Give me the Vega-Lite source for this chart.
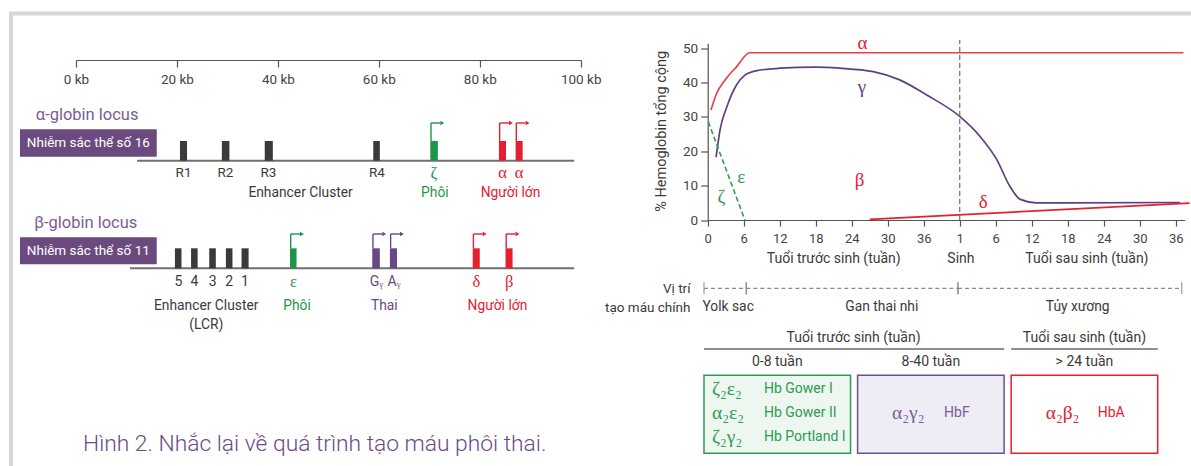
{
  "$schema": "https://vega.github.io/schema/vega-lite/v6.json",
  "width": 1200,
  "height": 472.5,
  "autosize": {"type": "none"},
  "padding": {"left": 11, "top": 13.5, "right": -20, "bottom": -20},
  "background": "#ffffff",
  "config": {
    "view": {"stroke": "#d7d7d7", "strokeWidth": 4},
    "font": "Roboto",
    "axis": {"labelFont": "Roboto", "titleFont": "Roboto", "labelColor": "#444444", "titleColor": "#3a3a3a", "domainColor": "#555555", "tickColor": "#555555", "grid": false, "titleFontWeight": "normal"}
  },
  "title": {"text": "Hình 2. Nhắc lại về quá trình tạo máu phôi thai.", "orient": "bottom", "anchor": "start", "frame": "group", "offset": -35.5, "dx": 72, "baseline": "alphabetic", "fontSize": 22.8, "fontWeight": 300, "color": "#6b4a8a", "font": "Roboto"},
  "resolve": {"scale": {"x": "independent", "y": "independent", "color": "independent", "fill": "independent", "stroke": "independent"}},
  "layer": [
    {
      "data": {"values": [{"nst": "16", "bd": 12.1, "kt": 98.7}]},
      "mark": {"type": "rule", "color": "#707070", "strokeWidth": 2},
      "encoding": {
        "x": {"field": "bd", "type": "quantitative", "scale": {"domain": [0, 100], "range": [65, 569.7], "nice": false, "zero": false},
          "axis": {"orient": "bottom", "offset": -426, "values": [0, 20, 40, 60, 80, 100], "labelExpr": "datum.value + ' kb'", "tickSize": 7, "labelPadding": 5, "labelFontSize": 13.5, "domainWidth": 1.2, "tickWidth": 1.2, "labelFlush": false, "labelOverlap": false, "title": null}},
        "x2": {"field": "kt"},
        "y": {"datum": 0, "type": "quantitative", "scale": {"domain": [0, 1], "range": [147.2, 127.5], "nice": false, "zero": false}, "axis": null}
      }
    },
    {
      "data": {"values": [
        {"ten": "R1", "loai": "tăng cường", "bd": 20.6, "kt": 22.0},
        {"ten": "R2", "loai": "tăng cường", "bd": 28.9, "kt": 30.4},
        {"ten": "R3", "loai": "tăng cường", "bd": 37.4, "kt": 39.0},
        {"ten": "R4", "loai": "tăng cường", "bd": 58.9, "kt": 60.2},
        {"ten": "ζ", "loai": "phôi", "bd": 70.2, "kt": 71.7},
        {"ten": "α", "loai": "người lớn", "bd": 83.8, "kt": 85.2},
        {"ten": "α", "loai": "người lớn", "bd": 87.1, "kt": 88.5}
      ]},
      "layer": [
        {
          "mark": {"type": "rect"},
          "encoding": {
            "x": {"field": "bd", "type": "quantitative", "scale": {"domain": [0, 100], "range": [65, 569.7], "nice": false, "zero": false}, "axis": null},
            "x2": {"field": "kt"},
            "y": {"datum": 0, "type": "quantitative", "scale": {"domain": [0, 1], "range": [147.2, 127.5], "nice": false, "zero": false}, "axis": null},
            "y2": {"datum": 1},
            "color": {"field": "loai", "type": "nominal", "scale": {"domain": ["tăng cường", "phôi", "thai", "người lớn"], "range": ["#3a3a3a", "#1f9549", "#6a4785", "#e5202e"]}, "legend": null}
          }
        },
        {
          "transform": [{"filter": "datum.loai != 'tăng cường'"}],
          "mark": {"type": "rule", "strokeWidth": 1.4, "xOffset": 0.7, "y2Offset": -18},
          "encoding": {
            "x": {"field": "bd", "type": "quantitative", "axis": null},
            "y": {"datum": 1, "type": "quantitative", "axis": null},
            "y2": {"datum": 1},
            "color": {"field": "loai", "type": "nominal", "legend": null}
          }
        },
        {
          "transform": [{"filter": "datum.loai != 'tăng cường'"}],
          "mark": {"type": "rule", "strokeWidth": 1.4, "xOffset": 0.7, "yOffset": -18, "x2Offset": 10},
          "encoding": {
            "x": {"field": "bd", "type": "quantitative", "axis": null},
            "x2": {"field": "bd"},
            "y": {"datum": 1, "type": "quantitative", "axis": null},
            "color": {"field": "loai", "type": "nominal", "legend": null}
          }
        },
        {
          "transform": [{"filter": "datum.loai != 'tăng cường'"}],
          "mark": {"type": "point", "shape": "triangle-right", "filled": true, "opacity": 1, "size": 20, "xOffset": 12, "yOffset": -18},
          "encoding": {
            "x": {"field": "bd", "type": "quantitative", "axis": null},
            "y": {"datum": 1, "type": "quantitative", "axis": null},
            "color": {"field": "loai", "type": "nominal", "legend": null}
          }
        },
        {
          "transform": [{"filter": "datum.loai == 'tăng cường'"}],
          "mark": {"type": "text", "dx": 3.6, "dy": 12.5, "baseline": "middle", "fontSize": 13.5, "color": "#3a3a3a"},
          "encoding": {
            "x": {"field": "bd", "type": "quantitative", "axis": null},
            "y": {"datum": 0, "type": "quantitative", "axis": null},
            "text": {"field": "ten"}
          }
        },
        {
          "transform": [{"filter": "datum.loai != 'tăng cường'"}],
          "mark": {"type": "text", "dx": 3.6, "dy": 12.5, "baseline": "middle", "fontSize": 16.5, "font": "Liberation Serif"},
          "encoding": {
            "x": {"field": "bd", "type": "quantitative", "axis": null},
            "y": {"datum": 0, "type": "quantitative", "axis": null},
            "text": {"field": "ten"},
            "color": {"field": "loai", "type": "nominal", "legend": null}
          }
        },
        {
          "data": {"values": [
            {"nhan": "Enhancer Cluster", "loai": "tăng cường", "vt": 44.5},
            {"nhan": "Phôi", "loai": "phôi", "vt": 71.1},
            {"nhan": "Người lớn", "loai": "người lớn", "vt": 86.1}
          ]},
          "mark": {"type": "text", "dy": 32.6, "baseline": "middle", "fontSize": 13.8},
          "encoding": {
            "x": {"field": "vt", "type": "quantitative", "axis": null},
            "y": {"datum": 0, "type": "quantitative", "axis": null},
            "text": {"field": "nhan"},
            "color": {"field": "loai", "type": "nominal", "legend": null}
          }
        },
        {
          "data": {"values": [{"nhan": "Nhiễm sắc thể số 16", "bd": -11.1, "kt": 16.0, "giua": 2.44, "locus": "α-globin locus", "locus_x": 2.2}]},
          "layer": [
            {
              "mark": {"type": "rect", "color": "#6b4a80", "yOffset": -4, "y2Offset": -31.4},
              "encoding": {
                "x": {"field": "bd", "type": "quantitative", "axis": null},
                "x2": {"field": "kt"},
                "y": {"datum": 0, "type": "quantitative", "axis": null},
                "y2": {"datum": 0}
              }
            },
            {
              "mark": {"type": "text", "dy": -17.7, "baseline": "middle", "fontSize": 13.5, "color": "#ffffff"},
              "encoding": {
                "x": {"field": "giua", "type": "quantitative", "axis": null},
                "y": {"datum": 0, "type": "quantitative", "axis": null},
                "text": {"field": "nhan"}
              }
            },
            {
              "mark": {"type": "text", "dy": -45.7, "baseline": "middle", "fontSize": 16.5, "color": "#7a5c95"},
              "encoding": {
                "x": {"field": "locus_x", "type": "quantitative", "axis": null},
                "y": {"datum": 0, "type": "quantitative", "axis": null},
                "text": {"field": "locus"}
              }
            }
          ]
        }
      ]
    },
    {
      "data": {"values": [
        {"ten": "5", "loai": "tăng cường", "bd": 19.6, "kt": 20.9},
        {"ten": "4", "loai": "tăng cường", "bd": 22.8, "kt": 24.1},
        {"ten": "3", "loai": "tăng cường", "bd": 26.4, "kt": 27.7},
        {"ten": "2", "loai": "tăng cường", "bd": 29.7, "kt": 31.0},
        {"ten": "1", "loai": "tăng cường", "bd": 32.8, "kt": 34.2},
        {"ten": "ε", "loai": "phôi", "bd": 42.4, "kt": 43.7},
        {"ten": "Gᵧ", "loai": "thai", "bd": 58.7, "kt": 60.2},
        {"ten": "Aᵧ", "loai": "thai", "bd": 62.2, "kt": 63.6},
        {"ten": "δ", "loai": "người lớn", "bd": 78.6, "kt": 80.0},
        {"ten": "β", "loai": "người lớn", "bd": 85.1, "kt": 86.5}
      ]},
      "layer": [
        {
          "data": {"values": [{"nst": "11", "bd": 10.7, "kt": 98.7}]},
          "mark": {"type": "rule", "color": "#707070", "strokeWidth": 2},
          "encoding": {
            "x": {"field": "bd", "type": "quantitative", "scale": {"domain": [0, 100], "range": [65, 569.7], "nice": false, "zero": false}, "axis": null},
            "x2": {"field": "kt"},
            "y": {"datum": 0, "type": "quantitative", "scale": {"domain": [0, 1], "range": [254.8, 234.8], "nice": false, "zero": false}, "axis": null}
          }
        },
        {
          "mark": {"type": "rect"},
          "encoding": {
            "x": {"field": "bd", "type": "quantitative", "axis": null},
            "x2": {"field": "kt"},
            "y": {"datum": 0, "type": "quantitative", "axis": null},
            "y2": {"datum": 1},
            "color": {"field": "loai", "type": "nominal", "scale": {"domain": ["tăng cường", "phôi", "thai", "người lớn"], "range": ["#3a3a3a", "#1f9549", "#6a4785", "#e5202e"]}, "legend": null}
          }
        },
        {
          "transform": [{"filter": "datum.loai != 'tăng cường'"}],
          "mark": {"type": "rule", "strokeWidth": 1.4, "xOffset": 0.7, "y2Offset": -14.3},
          "encoding": {
            "x": {"field": "bd", "type": "quantitative", "axis": null},
            "y": {"datum": 1, "type": "quantitative", "axis": null},
            "y2": {"datum": 1},
            "color": {"field": "loai", "type": "nominal", "legend": null}
          }
        },
        {
          "transform": [{"filter": "datum.loai != 'tăng cường'"}],
          "mark": {"type": "rule", "strokeWidth": 1.4, "xOffset": 0.7, "yOffset": -14.3, "x2Offset": 10},
          "encoding": {
            "x": {"field": "bd", "type": "quantitative", "axis": null},
            "x2": {"field": "bd"},
            "y": {"datum": 1, "type": "quantitative", "axis": null},
            "color": {"field": "loai", "type": "nominal", "legend": null}
          }
        },
        {
          "transform": [{"filter": "datum.loai != 'tăng cường'"}],
          "mark": {"type": "point", "shape": "triangle-right", "filled": true, "opacity": 1, "size": 20, "xOffset": 12, "yOffset": -14.3},
          "encoding": {
            "x": {"field": "bd", "type": "quantitative", "axis": null},
            "y": {"datum": 1, "type": "quantitative", "axis": null},
            "color": {"field": "loai", "type": "nominal", "legend": null}
          }
        },
        {
          "transform": [{"filter": "datum.loai == 'tăng cường'"}],
          "mark": {"type": "text", "dx": 3.4, "dy": 13.6, "baseline": "middle", "fontSize": 14, "color": "#3a3a3a"},
          "encoding": {
            "x": {"field": "bd", "type": "quantitative", "axis": null},
            "y": {"datum": 0, "type": "quantitative", "axis": null},
            "text": {"field": "ten"}
          }
        },
        {
          "transform": [{"filter": "datum.loai != 'tăng cường' && datum.loai != 'thai'"}],
          "mark": {"type": "text", "dx": 3.6, "dy": 13.4, "baseline": "middle", "fontSize": 16.5, "font": "Liberation Serif"},
          "encoding": {
            "x": {"field": "bd", "type": "quantitative", "axis": null},
            "y": {"datum": 0, "type": "quantitative", "axis": null},
            "text": {"field": "ten"},
            "color": {"field": "loai", "type": "nominal", "legend": null}
          }
        },
        {
          "transform": [{"filter": "datum.loai == 'thai'"}],
          "mark": {"type": "text", "dx": 4, "dy": 13.4, "baseline": "middle", "fontSize": 14},
          "encoding": {
            "x": {"field": "bd", "type": "quantitative", "axis": null},
            "y": {"datum": 0, "type": "quantitative", "axis": null},
            "text": {"field": "ten"},
            "color": {"field": "loai", "type": "nominal", "legend": null}
          }
        },
        {
          "data": {"values": [
            {"nhan": "Enhancer Cluster\n(LCR)", "loai": "tăng cường", "vt": 25.8},
            {"nhan": "Phôi", "loai": "phôi", "vt": 43.8},
            {"nhan": "Thai", "loai": "thai", "vt": 61.1},
            {"nhan": "Người lớn", "loai": "người lớn", "vt": 83.5}
          ]},
          "mark": {"type": "text", "dy": 30.5, "baseline": "top", "fontSize": 13.8, "lineBreak": "\n", "lineHeight": 19.3},
          "encoding": {
            "x": {"field": "vt", "type": "quantitative", "axis": null},
            "y": {"datum": 0, "type": "quantitative", "axis": null},
            "text": {"field": "nhan"},
            "color": {"field": "loai", "type": "nominal", "legend": null}
          }
        },
        {
          "data": {"values": [{"nhan": "Nhiễm sắc thể số 11", "bd": -11.1, "kt": 16.0, "giua": 2.44, "locus": "β-globin locus", "locus_x": 1.94}]},
          "layer": [
            {
              "mark": {"type": "rect", "color": "#6b4a80", "yOffset": -4, "y2Offset": -31},
              "encoding": {
                "x": {"field": "bd", "type": "quantitative", "axis": null},
                "x2": {"field": "kt"},
                "y": {"datum": 0, "type": "quantitative", "axis": null},
                "y2": {"datum": 0}
              }
            },
            {
              "mark": {"type": "text", "dy": -17.5, "baseline": "middle", "fontSize": 13.5, "color": "#ffffff"},
              "encoding": {
                "x": {"field": "giua", "type": "quantitative", "axis": null},
                "y": {"datum": 0, "type": "quantitative", "axis": null},
                "text": {"field": "nhan"}
              }
            },
            {
              "mark": {"type": "text", "dy": -45.6, "baseline": "middle", "fontSize": 16.5, "color": "#7a5c95"},
              "encoding": {
                "x": {"field": "locus_x", "type": "quantitative", "axis": null},
                "y": {"datum": 0, "type": "quantitative", "axis": null},
                "text": {"field": "locus"}
              }
            }
          ]
        }
      ]
    },
    {
      "data": {"values": [
        {"chuoi": "α", "tuan": 0.55, "pt": 32},
        {"chuoi": "α", "tuan": 1.5, "pt": 36.9},
        {"chuoi": "α", "tuan": 2.9, "pt": 40.8},
        {"chuoi": "α", "tuan": 4.8, "pt": 44.6},
        {"chuoi": "α", "tuan": 7, "pt": 48.7},
        {"chuoi": "α", "tuan": 79.3, "pt": 48.7},
        {"chuoi": "γ", "tuan": 1.4, "pt": 18.3},
        {"chuoi": "γ", "tuan": 2.05, "pt": 26.2},
        {"chuoi": "γ", "tuan": 3.2, "pt": 33},
        {"chuoi": "γ", "tuan": 4.8, "pt": 39.3},
        {"chuoi": "γ", "tuan": 6.2, "pt": 42.2},
        {"chuoi": "γ", "tuan": 8.2, "pt": 43.5},
        {"chuoi": "γ", "tuan": 12, "pt": 44.2},
        {"chuoi": "γ", "tuan": 18, "pt": 44.5},
        {"chuoi": "γ", "tuan": 22, "pt": 44.2},
        {"chuoi": "γ", "tuan": 27.6, "pt": 43.2},
        {"chuoi": "γ", "tuan": 32, "pt": 40.8},
        {"chuoi": "γ", "tuan": 36.5, "pt": 36.4},
        {"chuoi": "γ", "tuan": 41.9, "pt": 30.3},
        {"chuoi": "γ", "tuan": 45.4, "pt": 24.3},
        {"chuoi": "γ", "tuan": 48.2, "pt": 17.5},
        {"chuoi": "γ", "tuan": 50.4, "pt": 9.7},
        {"chuoi": "γ", "tuan": 52.1, "pt": 6},
        {"chuoi": "γ", "tuan": 54.8, "pt": 5.0},
        {"chuoi": "γ", "tuan": 60, "pt": 5.0},
        {"chuoi": "γ", "tuan": 78.7, "pt": 5.1},
        {"chuoi": "δ", "tuan": 27, "pt": 0.2},
        {"chuoi": "δ", "tuan": 80.3, "pt": 4.9}
      ]},
      "mark": {"type": "line", "interpolate": "monotone", "strokeWidth": 1.7},
      "encoding": {
        "x": {"field": "tuan", "type": "quantitative", "scale": {"domain": [0, 79.5], "range": [696.7, 1173.7], "nice": false, "zero": false},
          "axis": {"orient": "bottom", "offset": -266, "values": [0, 6, 12, 18, 24, 30, 36, 42, 48, 54, 60, 66, 72, 78], "labelExpr": "datum.value == 42 ? '1' : datum.value > 42 ? '' + (datum.value - 42) : '' + datum.value", "tickSize": 6, "labelPadding": 6, "labelFontSize": 13, "domainWidth": 1.2, "tickWidth": 1.2, "labelFlush": false, "labelOverlap": false, "title": null}},
        "y": {"field": "pt", "type": "quantitative", "scale": {"domain": [0, 51.5], "range": [206.5, 29.65], "nice": false, "zero": false},
          "axis": {"orient": "left", "offset": -696.7, "values": [0, 10, 20, 30, 40, 50], "tickSize": 7, "labelPadding": 3, "labelFontSize": 13.5, "domainWidth": 1.2, "tickWidth": 1.2, "labelFlush": false, "title": "% Hemoglobin tổng cộng", "titleX": -46, "titleY": 117.3, "titleAngle": -90, "titleAlign": "center", "titleBaseline": "middle", "titleFontSize": 14.5}},
        "color": {"field": "chuoi", "type": "nominal", "scale": {"domain": ["α", "γ", "δ"], "range": ["#e8414c", "#5e3f82", "#e4222f"]}, "legend": null}
      }
    },
    {
      "data": {"values": [
        {"chuoi": "ε/ζ", "tuan": 0.1, "pt": 28.6},
        {"chuoi": "ε/ζ", "tuan": 6.2, "pt": 0}
      ]},
      "layer": [
        {
          "mark": {"type": "line", "strokeWidth": 1.6, "strokeDash": [5, 3], "color": "#2e9c52"},
          "encoding": {
            "x": {"field": "tuan", "type": "quantitative", "scale": {"domain": [0, 79.5], "range": [696.7, 1173.7], "nice": false, "zero": false}, "axis": null},
            "y": {"field": "pt", "type": "quantitative", "scale": {"domain": [0, 51.5], "range": [206.5, 29.65], "nice": false, "zero": false}, "axis": null}
          }
        },
        {
          "data": {"values": [{"moc": "Sinh", "tuan": 42, "tu": 0, "den": 52.4}]},
          "mark": {"type": "rule", "color": "#7a7a7a", "strokeWidth": 1.3, "strokeDash": [5, 3]},
          "encoding": {
            "x": {"field": "tuan", "type": "quantitative", "axis": null},
            "y": {"field": "tu", "type": "quantitative", "axis": null},
            "y2": {"field": "den"}
          }
        },
        {
          "data": {"values": [
            {"nhan": "α", "tuan": 25.8, "pt": 51.6},
            {"nhan": "γ", "tuan": 25.7, "pt": 38.6},
            {"nhan": "β", "tuan": 25.3, "pt": 11.6},
            {"nhan": "δ", "tuan": 45.9, "pt": 5.2},
            {"nhan": "ε", "tuan": 5.6, "pt": 12.6},
            {"nhan": "ζ", "tuan": 2.3, "pt": 6.8}
          ]},
          "mark": {"type": "text", "baseline": "middle", "fontSize": 19, "font": "Liberation Serif"},
          "encoding": {
            "x": {"field": "tuan", "type": "quantitative", "axis": null},
            "y": {"field": "pt", "type": "quantitative", "axis": null},
            "text": {"field": "nhan"},
            "color": {"field": "nhan", "type": "nominal", "scale": {"domain": ["α", "β", "γ", "δ", "ε", "ζ"], "range": ["#e5202e", "#e5202e", "#5e3f82", "#e5202e", "#2e9c52", "#2e9c52"]}, "legend": null}
          }
        },
        {
          "data": {"values": [
            {"nhan": "Tuổi trước sinh (tuần)", "tuan": 21},
            {"nhan": "Sinh", "tuan": 42.2},
            {"nhan": "Tuổi sau sinh (tuần)", "tuan": 63.2}
          ]},
          "mark": {"type": "text", "baseline": "middle", "dy": 39.3, "fontSize": 14, "color": "#3a3a3a"},
          "encoding": {
            "x": {"field": "tuan", "type": "quantitative", "axis": null},
            "y": {"datum": 0, "type": "quantitative", "axis": null},
            "text": {"field": "nhan"}
          }
        }
      ]
    },
    {
      "data": {"values": [
        {"noi": "Yolk sac", "tu": 0, "den": 7, "nhan_x": 4.0},
        {"noi": "Gan thai nhi", "tu": 7, "den": 42, "nhan_x": 29.4},
        {"noi": "Tủy xương", "tu": 42, "den": 79, "nhan_x": 61.8}
      ]},
      "mark": {"type": "rule", "color": "#8a8a8a", "strokeWidth": 1.2, "strokeDash": [4, 3]},
      "encoding": {
        "x": {"field": "tu", "type": "quantitative", "scale": {"domain": [0, 79], "range": [693, 1170.7], "nice": false, "zero": false}, "axis": null},
        "x2": {"field": "den"},
        "y": {"datum": "Vị trí", "type": "nominal", "scale": {"type": "point", "domain": ["Vị trí", "tạo máu chính"], "range": [274.8, 293.8], "padding": 0},
          "axis": {"orient": "left", "offset": -693, "domain": false, "ticks": false, "tickSize": 0, "labelPadding": 14, "labelFontSize": 13.5, "labelColor": "#3a3a3a", "labelAlign": "right", "labelBaseline": "middle", "title": null}}
      }
    },
    {
      "data": {"values": [
        {"noi": "Yolk sac", "tu": 0, "den": 7, "nhan_x": 4.0},
        {"noi": "Gan thai nhi", "tu": 7, "den": 42, "nhan_x": 29.4},
        {"noi": "Tủy xương", "tu": 42, "den": 79, "nhan_x": 61.8}
      ]},
      "layer": [
        {
          "mark": {"type": "tick", "color": "#808080", "size": 12, "thickness": 1.3},
          "encoding": {
            "x": {"field": "tu", "type": "quantitative", "scale": {"domain": [0, 79], "range": [693, 1170.7], "nice": false, "zero": false}, "axis": null},
            "y": {"datum": "Vị trí", "type": "nominal", "scale": {"type": "point", "domain": ["Vị trí", "tạo máu chính"], "range": [274.8, 293.8], "padding": 0}, "axis": null}
          }
        },
        {
          "mark": {"type": "tick", "color": "#808080", "size": 12, "thickness": 1.3},
          "encoding": {
            "x": {"field": "den", "type": "quantitative", "axis": null},
            "y": {"datum": "Vị trí", "type": "nominal", "axis": null}
          }
        },
        {
          "mark": {"type": "text", "baseline": "middle", "fontSize": 13.8, "color": "#3a3a3a"},
          "encoding": {
            "x": {"field": "nhan_x", "type": "quantitative", "axis": null},
            "y": {"datum": "tạo máu chính", "type": "nominal", "axis": null},
            "text": {"field": "noi"}
          }
        }
      ]
    },
    {
      "data": {"values": [
        {"giai": "0-8 tuần"},
        {"giai": "8-40 tuần"},
        {"giai": "> 24 tuần"}
      ]},
      "layer": [
        {
          "mark": {"type": "rect", "strokeWidth": 1.5, "yOffset": -11.4, "y2Offset": 18.3},
          "encoding": {
            "x": {"field": "giai", "type": "nominal", "sort": null, "scale": {"type": "band", "domain": ["0-8 tuần", "8-40 tuần", "> 24 tuần"], "range": [693, 1146.7], "paddingInner": 0.046, "paddingOuter": 0}, "axis": null},
            "y": {"datum": "1", "type": "nominal", "scale": {"type": "point", "domain": ["nhóm", "giai đoạn", "1", "2", "3"], "range": [324.8, 421.5], "padding": 0}, "axis": null},
            "y2": {"datum": "3"},
            "fill": {"field": "giai", "type": "nominal", "scale": {"domain": ["0-8 tuần", "8-40 tuần", "> 24 tuần"], "range": ["#edf6ef", "#eeecf5", "#ffffff"]}, "legend": null},
            "stroke": {"field": "giai", "type": "nominal", "scale": {"domain": ["0-8 tuần", "8-40 tuần", "> 24 tuần"], "range": ["#2e9a55", "#6e5190", "#e5202e"]}, "legend": null}
          }
        },
        {
          "mark": {"type": "text", "baseline": "middle", "fontSize": 14, "color": "#3a3a3a"},
          "encoding": {
            "x": {"field": "giai", "type": "nominal", "axis": null},
            "y": {"datum": "giai đoạn", "type": "nominal", "axis": null},
            "text": {"field": "giai"}
          }
        },
        {
          "data": {"values": [
            {"nhom": "Tuổi trước sinh (tuần)", "tu": "0-8 tuần", "den": "8-40 tuần"},
            {"nhom": "Tuổi sau sinh (tuần)", "tu": "> 24 tuần", "den": "> 24 tuần"}
          ]},
          "layer": [
            {
              "mark": {"type": "rule", "color": "#6a6a6a", "strokeWidth": 1.3, "yOffset": 10.7},
              "encoding": {
                "x": {"field": "tu", "type": "nominal", "bandPosition": 0, "axis": null},
                "x2": {"field": "den", "bandPosition": 1},
                "y": {"datum": "nhóm", "type": "nominal", "axis": null}
              }
            },
            {
              "transform": [{"filter": "datum.tu == '0-8 tuần'"}],
              "mark": {"type": "text", "baseline": "middle", "fontSize": 14, "color": "#3a3a3a", "dx": -4},
              "encoding": {
                "x": {"field": "den", "type": "nominal", "bandPosition": 0, "axis": null},
                "y": {"datum": "nhóm", "type": "nominal", "axis": null},
                "text": {"field": "nhom"}
              }
            },
            {
              "transform": [{"filter": "datum.tu != '0-8 tuần'"}],
              "mark": {"type": "text", "baseline": "middle", "fontSize": 14, "color": "#3a3a3a"},
              "encoding": {
                "x": {"field": "tu", "type": "nominal", "bandPosition": 0.5, "axis": null},
                "y": {"datum": "nhóm", "type": "nominal", "axis": null},
                "text": {"field": "nhom"}
              }
            }
          ]
        },
        {
          "data": {"values": [
            {"giai": "0-8 tuần", "dong": "1", "ct": "ζ₂ε₂", "hb": "Hb Gower I"},
            {"giai": "0-8 tuần", "dong": "2", "ct": "α₂ε₂", "hb": "Hb Gower II"},
            {"giai": "0-8 tuần", "dong": "3", "ct": "ζ₂γ₂", "hb": "Hb Portland I"},
            {"giai": "8-40 tuần", "dong": "2", "ct": "α₂γ₂", "hb": "HbF"},
            {"giai": "> 24 tuần", "dong": "2", "ct": "α₂β₂", "hb": "HbA"}
          ]},
          "layer": [
            {
              "transform": [{"filter": "datum.giai == '0-8 tuần'"}],
              "mark": {"type": "text", "align": "left", "baseline": "middle", "dx": 8, "dy": 2, "fontSize": 19.5, "font": "Liberation Serif"},
              "encoding": {
                "x": {"field": "giai", "type": "nominal", "bandPosition": 0, "axis": null},
                "y": {"field": "dong", "type": "nominal", "axis": null},
                "text": {"field": "ct"},
                "color": {"field": "giai", "type": "nominal", "scale": {"domain": ["0-8 tuần", "8-40 tuần", "> 24 tuần"], "range": ["#2e9c52", "#7a5c96", "#e5202e"]}, "legend": null}
              }
            },
            {
              "transform": [{"filter": "datum.giai == '0-8 tuần'"}],
              "mark": {"type": "text", "align": "left", "baseline": "middle", "dx": 60, "dy": 2, "fontSize": 14},
              "encoding": {
                "x": {"field": "giai", "type": "nominal", "bandPosition": 0, "axis": null},
                "y": {"field": "dong", "type": "nominal", "axis": null},
                "text": {"field": "hb"},
                "color": {"field": "giai", "type": "nominal", "legend": null}
              }
            },
            {
              "transform": [{"filter": "datum.giai != '0-8 tuần'"}],
              "mark": {"type": "text", "align": "left", "baseline": "middle", "dx": 34.5, "dy": 2, "fontSize": 19.5, "font": "Liberation Serif"},
              "encoding": {
                "x": {"field": "giai", "type": "nominal", "bandPosition": 0, "axis": null},
                "y": {"field": "dong", "type": "nominal", "axis": null},
                "text": {"field": "ct"},
                "color": {"field": "giai", "type": "nominal", "legend": null}
              }
            },
            {
              "transform": [{"filter": "datum.giai != '0-8 tuần'"}],
              "mark": {"type": "text", "align": "left", "baseline": "middle", "dx": 86.5, "dy": 2, "fontSize": 14},
              "encoding": {
                "x": {"field": "giai", "type": "nominal", "bandPosition": 0, "axis": null},
                "y": {"field": "dong", "type": "nominal", "axis": null},
                "text": {"field": "hb"},
                "color": {"field": "giai", "type": "nominal", "legend": null}
              }
            }
          ]
        }
      ]
    }
  ]
}
